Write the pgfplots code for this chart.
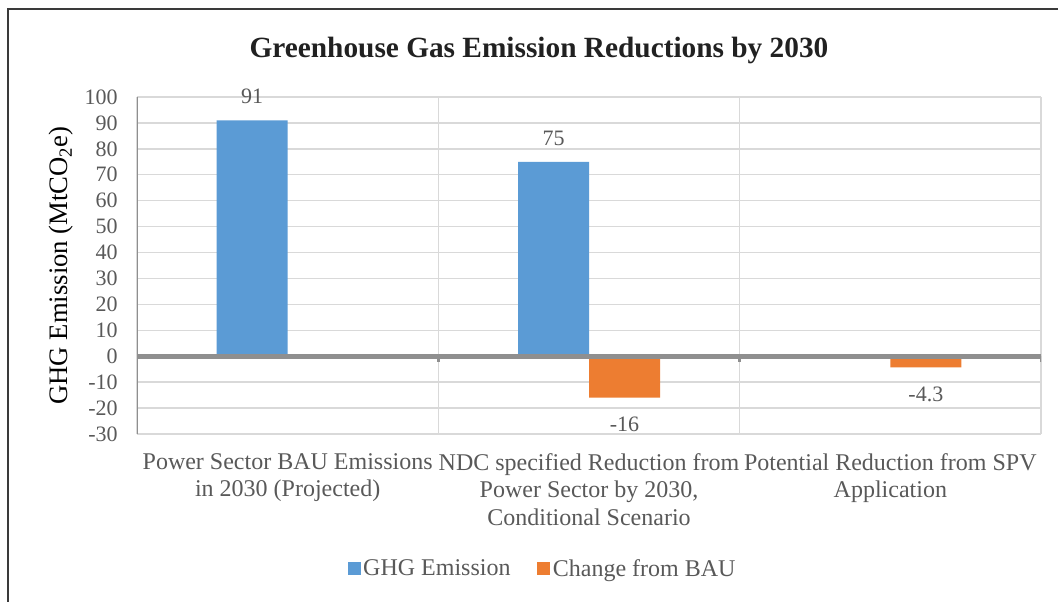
\documentclass[border=0pt]{standalone}
\usepackage{pgfplots}
\pgfplotsset{compat=1.18}
\usepackage{fontspec}
\setmainfont{Liberation Serif}
\definecolor{cblue}{HTML}{5B9BD5}
\definecolor{corange}{HTML}{ED7D31}
\definecolor{tgray}{HTML}{595959}
\definecolor{ggray}{HTML}{D9D9D9}
\definecolor{agray}{HTML}{8F8F8F}
\definecolor{framec}{HTML}{3A3A3A}

\begin{document}
\begin{tikzpicture}[x=0.75pt,y=0.75pt]
\useasboundingbox (0,0) rectangle (1058,601);
\fill[white] (0,0) rectangle (1058,601);
\draw[framec, line width=1.5pt] (7.5,-5) -- (7.5,591.5) -- (1065,591.5);
\node[font=\fontsize{22}{26}\selectfont\bfseries, text=black!87, anchor=base] at (539,543) {Greenhouse Gas Emission Reductions by 2030};
\begin{axis}[
  at={(102.75pt,125.25pt)}, anchor=south west,
  scale only axis, width=678pt, height=252.75pt,
  xmin=-0.5, xmax=2.5, ymin=-30, ymax=100,
  ytick={-30,-20,...,100},
  xtick={0,1,2},
  xticklabels={{Power Sector BAU Emissions\\in 2030 (Projected)},{NDC specified Reduction from\\Power Sector by 2030,\\Conditional Scenario},{Potential Reduction from SPV\\Application}},
  minor xtick={-0.5,0.5,1.5,2.5},
  ymajorgrids, xminorgrids,
  grid style={ggray, line width=1pt},
  minor grid style={ggray, line width=1pt},
  major tick length=0pt, minor tick length=0pt,
  axis line style={draw=none},
  ybar=0pt, bar width=53.25pt,
  /pgf/number format/assume math mode=true,
  yticklabel style={font=\fontsize{16.5}{18}\selectfont, text=tgray, xshift=-11pt},
  xticklabel style={font=\fontsize{18}{20.7}\selectfont, text=tgray, align=center, yshift=-11pt},
  ylabel={GHG Emission (MtCO\textsubscript{2}e)},
  ylabel style={font=\fontsize{20}{24}\selectfont, text=black, at={(axis description cs:-0.07,0.5)}, anchor=south, inner sep=0pt},
  every node near coord/.append style={font=\fontsize{16.5}{18}\selectfont, text=tgray, inner sep=0pt},
  legend style={at={(0.449,-0.40)}, anchor=center, draw=none, fill=none, font=\fontsize{18}{20}\selectfont, text=tgray, legend columns=2, /tikz/every even column/.append style={column sep=18pt}},
  legend image code/.code={\fill[#1] (0pt,-4.5pt) rectangle (9.75pt,5.25pt);},
]
\addplot[fill=cblue, draw=none, nodes near coords, every node near coord/.append style={yshift=12pt}] coordinates {(0,91) (1,75)};
\addplot[fill=corange, draw=none, nodes near coords, every node near coord/.append style={yshift=-14.5pt}] coordinates {(1,-16) (2,-4.3)};
\legend{GHG Emission, Change from BAU}
\draw[agray, line width=2pt] (rel axis cs:0,0) -- (rel axis cs:0,1);
\draw[agray, line width=3.5pt] (axis cs:-0.5,0) -- (axis cs:2.5,0);
\pgfplotsinvokeforeach{-0.5,0.5,1.5,2.5}{\draw[agray, line width=2pt] (axis cs:#1,0) -- ++(0pt,-4pt);}
\end{axis}
\end{tikzpicture}
\end{document}
